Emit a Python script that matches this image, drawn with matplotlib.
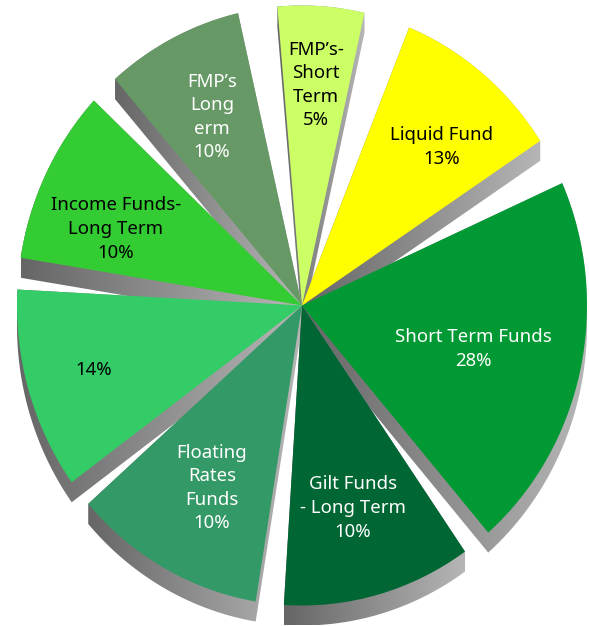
import numpy as np
import matplotlib
matplotlib.use('Agg')
import matplotlib.pyplot as plt
from matplotlib.colors import LinearSegmentedColormap
from matplotlib.path import Path

plt.rcParams['font.family'] = ['Noto Sans', 'DejaVu Sans']

# slices counterclockwise, starting at the lower end of Short Term Funds
names = ['Short Term Funds', 'Liquid Fund', "FMP\u2019s-\nShort\nTerm", "FMP\u2019s\nLong\nerm",
         'Income Funds-\nLong Term', '', 'Floating\nRates\nFunds', 'Gilt Funds\n- Long Term']
percents = ['28%', '13%', '5%', '10%', '10%', '14%', '10%', '10%']
# drawn angle of each slice and of the gap after it, in degrees
slice_deg = [73.2, 34.6, 17.6, 28.0, 33.9, 39.1, 39.2, 38.5]
gap_deg = [9.2, 9.4, 8.0, 5.9, 6.1, 5.3, 5.7, 5.9]
colors = ['#009933', '#FFFF00', '#CCFF66', '#669966', '#33CC33', '#33CC66', '#339966', '#006633']
text_colors = ['white', 'black', 'black', 'white', 'black', 'black', 'white', 'white']
# label centres in pixels of the picture
label_x = [473, 442, 316, 212, 116, 94, 212, 353]
label_y = [349, 147, 85, 117, 229, 370, 488, 508]

W, H = 589, 626
CX, CY = 302, 305.5  # pie centre in pixels
RX, RY = 285, 300    # pie is a bit taller than wide
DEPTH = 20 / RY


def px(x, y):
    return (x - CX) / RX, (CY - y) / RY


def hull(points):
    pts = sorted(set(map(tuple, points)))
    def half(seq):
        out = []
        for p in seq:
            while len(out) > 1 and ((out[-1][0]-out[-2][0])*(p[1]-out[-2][1])
                                    - (out[-1][1]-out[-2][1])*(p[0]-out[-2][0])) <= 0:
                out.pop()
            out.append(p)
        return out[:-1]
    return half(pts) + half(pts[::-1])


fig = plt.figure(figsize=(W/100, H/100), dpi=100)
ax = fig.add_axes([0, 0, 1, 1])

sizes, fills = [], []
for s, g, c in zip(slice_deg, gap_deg, colors):
    sizes += [s, g]
    fills += [c, 'none']
wedges, _ = ax.pie(sizes, colors=fills, startangle=-49.2, wedgeprops={'linewidth': 0, 'zorder': 3})

side_cmap = LinearSegmentedColormap.from_list('side', ['#666666', '#b6b6b6'])
for w in wedges[::2]:
    t = np.radians(np.linspace(w.theta1, w.theta2, 80))
    top = np.vstack([[0, 0], np.column_stack([np.cos(t), np.sin(t)])])
    low = top - [0, DEPTH]
    poly = hull(np.vstack([top, low]))
    box = np.array(poly)
    im = ax.imshow(np.linspace(0, 1, 256).reshape(1, -1), cmap=side_cmap, aspect='auto', origin='lower',
                   extent=(box[:, 0].min(), box[:, 0].max(), box[:, 1].min(), box[:, 1].max()), zorder=1)
    im.set_clip_path(Path(poly + [poly[0]]), transform=ax.transData)

for name, pct, x, y, c in zip(names, percents, label_x, label_y, text_colors):
    tx, ty = px(x, y)
    txt = name + '\n' + pct if name else pct
    ax.text(tx, ty, txt, color=c, fontsize=13.4, ha='center', va='center', linespacing=1.4, zorder=5)

ax.set_aspect('auto')
ax.set_xlim(*[px(0, 0)[0], px(W, 0)[0]])
ax.set_ylim(px(0, H)[1], px(0, 0)[1])
ax.axis('off')
fig.savefig('out.png', dpi=100)
